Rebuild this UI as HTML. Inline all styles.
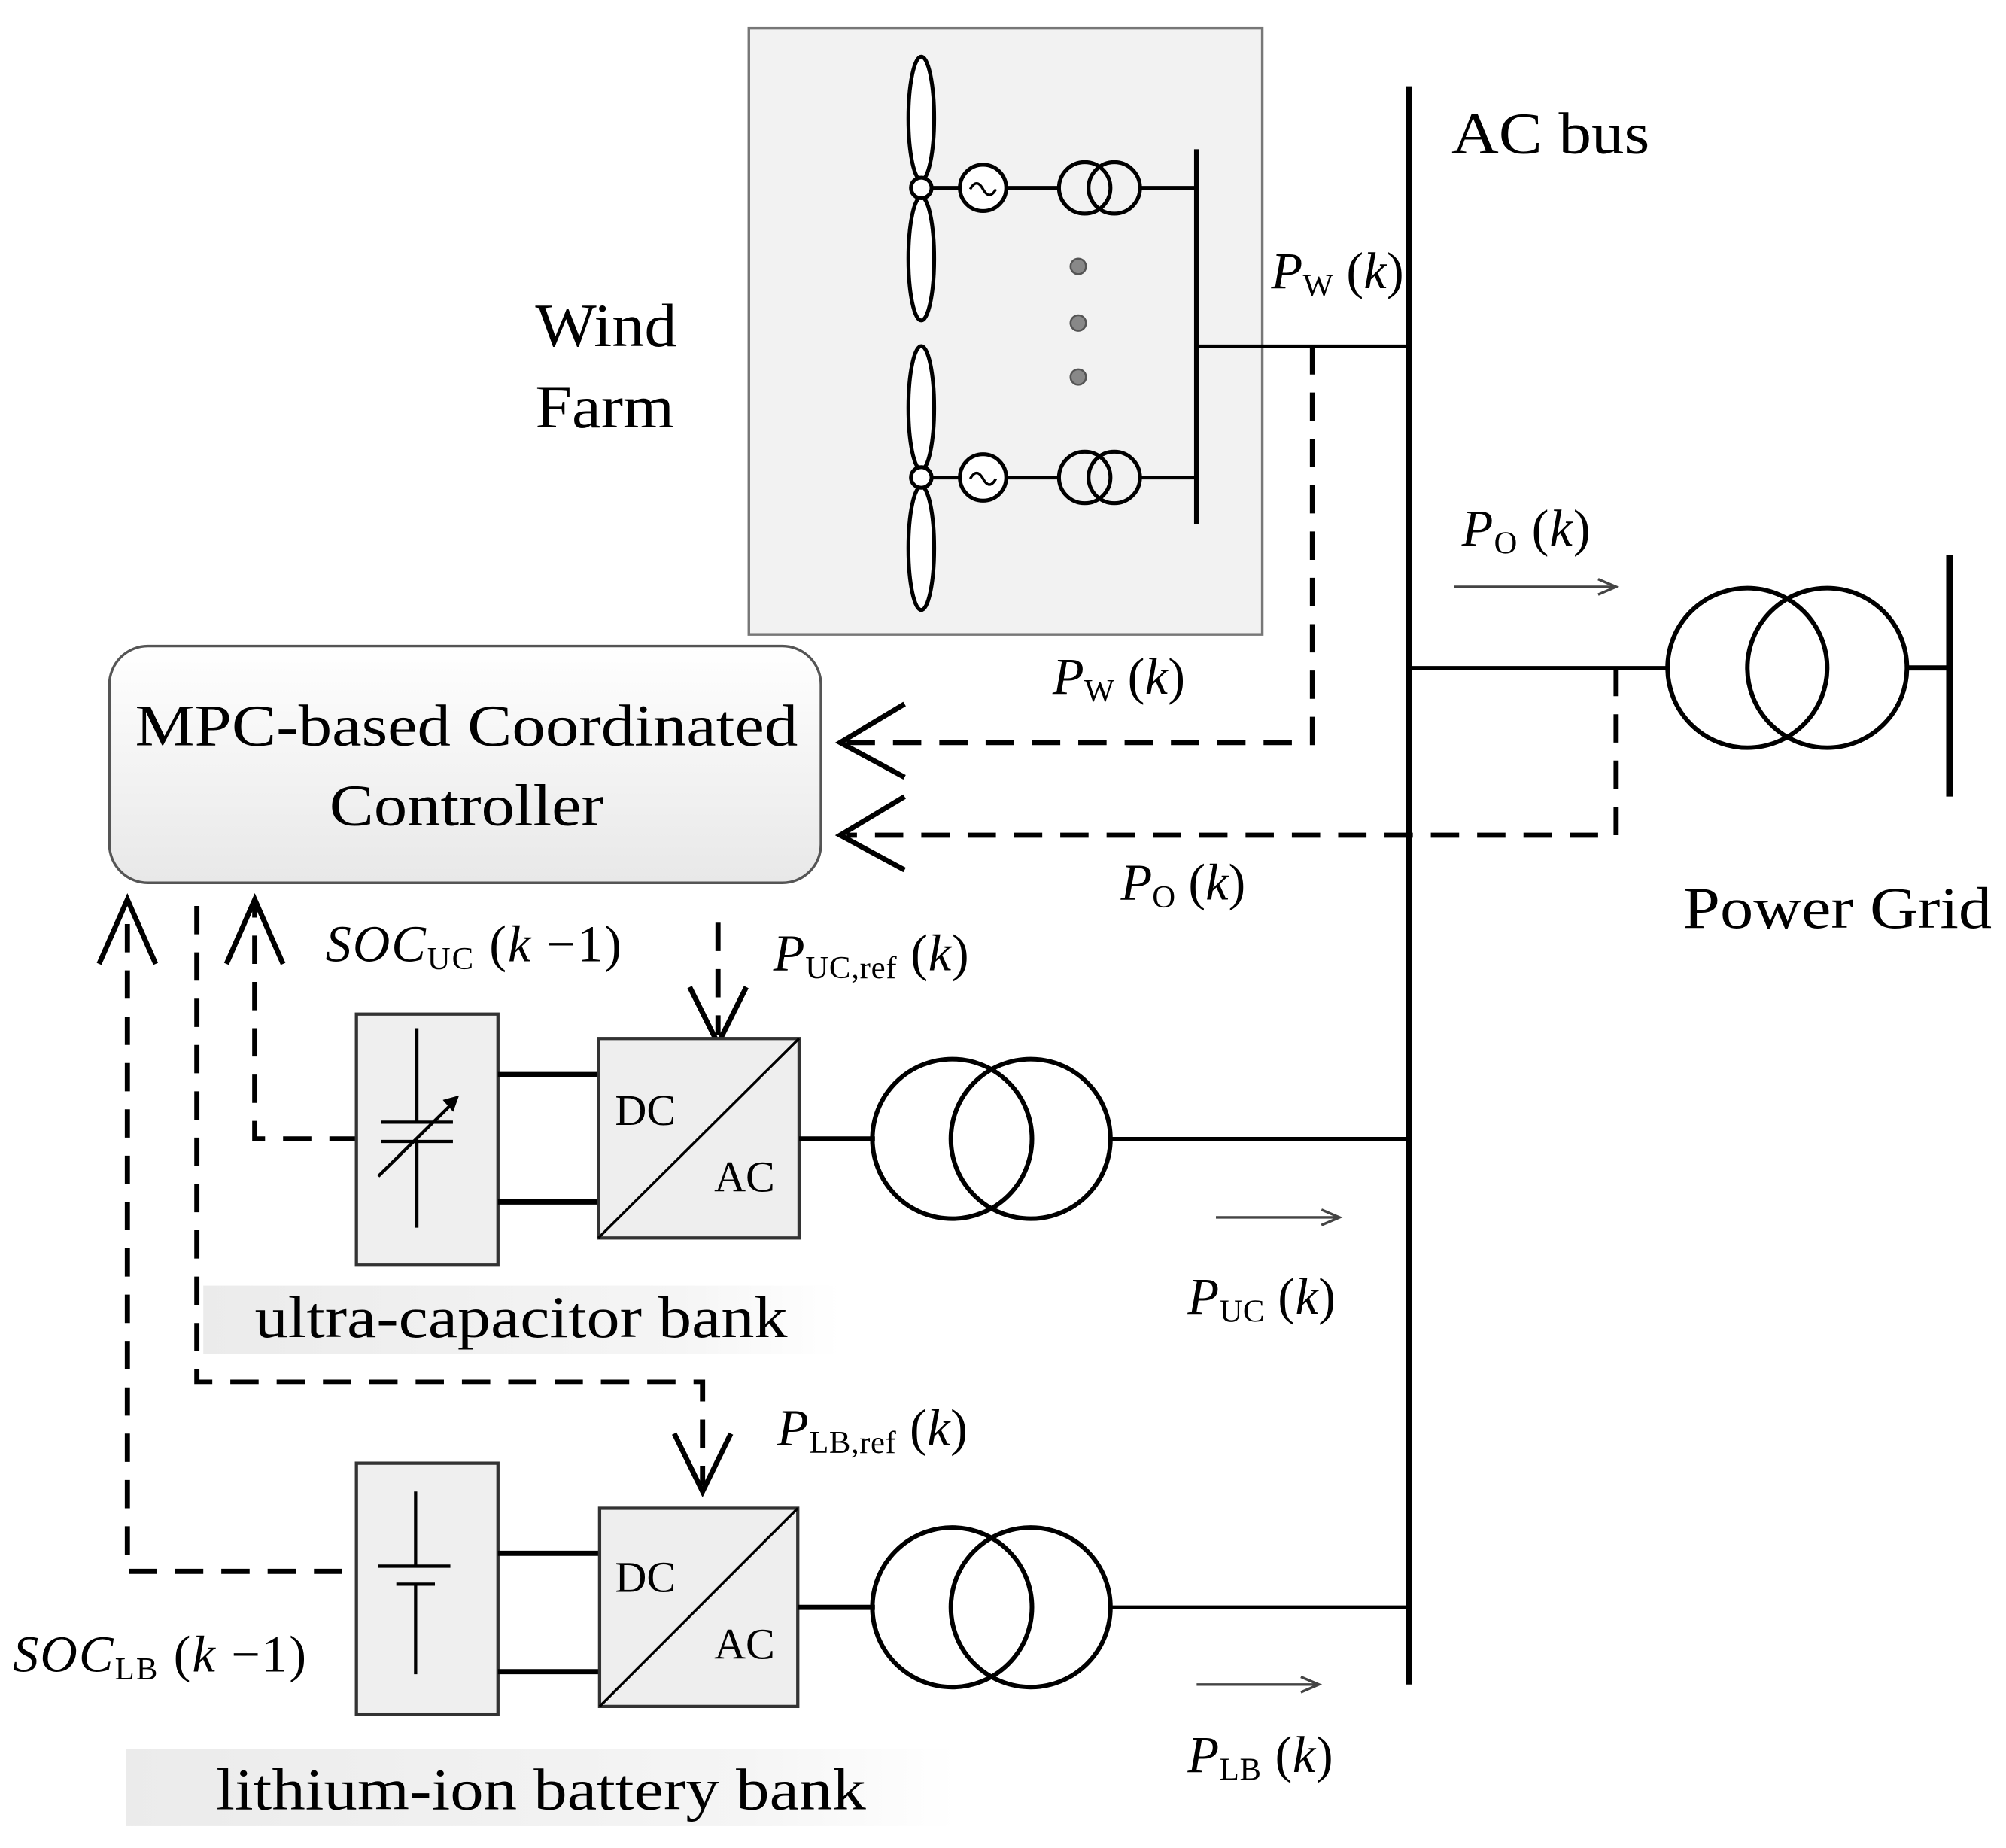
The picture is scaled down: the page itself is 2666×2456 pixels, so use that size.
<!DOCTYPE html>
<html><head><meta charset="utf-8"><style>
html,body{margin:0;padding:0;background:#fff}
svg{display:block}
text{font-family:"Liberation Serif",serif;fill:#000}
</style></head><body>
<svg width="2666" height="2456" viewBox="2 1 1559 1436" preserveAspectRatio="none" xmlns="http://www.w3.org/2000/svg">
<defs>
<linearGradient id="g1" x1="0" y1="0" x2="0" y2="1"><stop offset="0" stop-color="#ffffff"/><stop offset="1" stop-color="#e8e8e8"/></linearGradient>
<linearGradient id="g2" x1="0" y1="0" x2="1" y2="0"><stop offset="0" stop-color="#ebebeb"/><stop offset="0.75" stop-color="#f5f5f5"/><stop offset="1" stop-color="#ffffff"/></linearGradient>
</defs>
<g fill="none" stroke="#000" stroke-width="4">
<rect x="584" y="23" width="399" height="471" fill="#f2f2f2" stroke="#777" stroke-width="2"/>
<g stroke-width="3">
<ellipse cx="718" cy="93" rx="10" ry="48" fill="#fff"/>
<ellipse cx="718" cy="202" rx="10" ry="48" fill="#fff"/>
<circle cx="718" cy="147" r="8" fill="#fff"/>
<line x1="726" y1="147" x2="748" y2="147"/>
<circle cx="766" cy="147" r="18" fill="#fff"/>
<path d="M756 148 q5 -9 10 0 q5 9 10 0" stroke-width="2"/>
<line x1="784" y1="147" x2="825" y2="147"/>
<circle cx="845" cy="147" r="20"/><circle cx="868" cy="147" r="20"/>
<line x1="888" y1="147" x2="932" y2="147"/>
<ellipse cx="718" cy="318" rx="10" ry="48" fill="#fff"/>
<ellipse cx="718" cy="427" rx="10" ry="48" fill="#fff"/>
<circle cx="718" cy="372" r="8" fill="#fff"/>
<line x1="726" y1="372" x2="748" y2="372"/>
<circle cx="766" cy="372" r="18" fill="#fff"/>
<path d="M756 373 q5 -9 10 0 q5 9 10 0" stroke-width="2"/>
<line x1="784" y1="372" x2="825" y2="372"/>
<circle cx="845" cy="372" r="20"/><circle cx="868" cy="372" r="20"/>
<line x1="888" y1="372" x2="932" y2="372"/>
</g>
<line x1="932" y1="117" x2="932" y2="408"/>
<circle cx="840" cy="208" r="6" fill="#888" stroke="#555" stroke-width="1.5"/>
<circle cx="840" cy="252" r="6" fill="#888" stroke="#555" stroke-width="1.5"/>
<circle cx="840" cy="294" r="6" fill="#888" stroke="#555" stroke-width="1.5"/>
<line x1="932" y1="270" x2="1097" y2="270" stroke-width="2.5"/>
<line x1="1097" y1="68" x2="1097" y2="1310" stroke-width="5"/>
<line x1="1097" y1="520" x2="1298" y2="520" stroke-width="3"/>
<circle cx="1360" cy="520" r="62" stroke-width="3.5"/>
<circle cx="1422" cy="520" r="62" stroke-width="3.5"/>
<line x1="1484" y1="520" x2="1517" y2="520"/>
<line x1="1517" y1="432" x2="1517" y2="620" stroke-width="5"/>
<line x1="1132" y1="457" x2="1256" y2="457" stroke="#444" stroke-width="2"/>
<path d="M1244 451 L1258 457 L1244 463" stroke="#444" stroke-width="2"/>
<rect x="87" y="503" width="553" height="184" rx="30" fill="url(#g1)" stroke="#555" stroke-width="2"/>
<g stroke-dasharray="22 14" stroke-width="4">
<polyline points="1022,270 1022,578 660,578"/>
<polyline points="1258,520 1258,650 660,650"/>
<polyline points="280,886 200,886 200,705"/>
<polyline points="268,1222 101,1222 101,705"/>
<polyline points="155,705 155,1075 548,1075 548,1155"/>
<polyline points="560,718 560,805"/>
</g>
<g stroke-width="4">
<polyline points="705,548 655,578 705,605"/>
<polyline points="705,620 655,650 705,677"/>
<polyline points="178,750 200,700 222,750"/>
<polyline points="79,750 101,700 123,750"/>
<polyline points="526,1115 548,1160 570,1115"/>
<polyline points="538,768 560,812 582,768"/>
</g>
<rect x="279" y="789" width="110" height="195" fill="#efefef" stroke="#333" stroke-width="2.5"/>
<g stroke-width="2.5">
<line x1="326" y1="800" x2="326" y2="873"/>
<line x1="298" y1="873" x2="354" y2="873"/>
<line x1="298" y1="888" x2="354" y2="888"/>
<line x1="326" y1="888" x2="326" y2="955"/>
<line x1="296" y1="915" x2="356" y2="856"/>
</g>
<path d="M347 856 L358 853 L354 864 Z" fill="#000" stroke-width="1"/>
<line x1="389" y1="836" x2="467" y2="836"/>
<line x1="389" y1="935" x2="467" y2="935"/>
<rect x="467" y="808" width="156" height="155" fill="#eeeeee" stroke="#333" stroke-width="2.5"/>
<line x1="467" y1="963" x2="623" y2="808" stroke-width="2"/>
<line x1="623" y1="886" x2="682" y2="886"/>
<circle cx="742" cy="886" r="62" stroke-width="3.5"/>
<circle cx="803" cy="886" r="62" stroke-width="3.5"/>
<line x1="865" y1="886" x2="1097" y2="886" stroke-width="3"/>
<line x1="947" y1="947" x2="1041" y2="947" stroke="#444" stroke-width="2"/>
<path d="M1029 941 L1043 947 L1029 953" stroke="#444" stroke-width="2"/>
<rect x="279" y="1138" width="110" height="195" fill="#efefef" stroke="#333" stroke-width="2.5"/>
<g stroke-width="2.5">
<line x1="325" y1="1160" x2="325" y2="1218"/>
<line x1="296" y1="1218" x2="352" y2="1218"/>
<line x1="310" y1="1232" x2="340" y2="1232"/>
<line x1="325" y1="1232" x2="325" y2="1302"/>
</g>
<line x1="389" y1="1208" x2="468" y2="1208"/>
<line x1="389" y1="1300" x2="468" y2="1300"/>
<rect x="468" y="1173" width="154" height="154" fill="#eeeeee" stroke="#333" stroke-width="2.5"/>
<line x1="468" y1="1327" x2="622" y2="1173" stroke-width="2"/>
<line x1="622" y1="1250" x2="682" y2="1250"/>
<circle cx="742" cy="1250" r="62" stroke-width="3.5"/>
<circle cx="803" cy="1250" r="62" stroke-width="3.5"/>
<line x1="865" y1="1250" x2="1097" y2="1250" stroke-width="3"/>
<line x1="932" y1="1310" x2="1025" y2="1310" stroke="#444" stroke-width="2"/>
<path d="M1013 1304 L1027 1310 L1013 1316" stroke="#444" stroke-width="2"/>
</g>
<rect x="160" y="1000" width="495" height="53" fill="url(#g2)"/>
<rect x="100" y="1360" width="645" height="60" fill="url(#g2)"/>
<text x="418" y="270" font-size="48" textLength="110" lengthAdjust="spacingAndGlyphs">Wind</text>
<text x="418" y="333" font-size="48" textLength="108" lengthAdjust="spacingAndGlyphs">Farm</text>
<text x="1130" y="120" font-size="46" textLength="154" lengthAdjust="spacingAndGlyphs">AC bus</text>
<text x="1310" y="722" font-size="46" textLength="240" lengthAdjust="spacingAndGlyphs">Power Grid</text>
<text x="107" y="580" font-size="46" textLength="515" lengthAdjust="spacingAndGlyphs">MPC-based Coordinated</text>
<text x="258" y="642" font-size="46" textLength="213" lengthAdjust="spacingAndGlyphs">Controller</text>
<text x="200" y="1040" font-size="46" textLength="414" lengthAdjust="spacingAndGlyphs">ultra-capacitor bank</text>
<text x="170" y="1407" font-size="46" textLength="505" lengthAdjust="spacingAndGlyphs">lithium-ion battery bank</text>
<text x="480" y="875" font-size="34">DC</text>
<text x="557" y="927" font-size="34">AC</text>
<text x="480" y="1238" font-size="34">DC</text>
<text x="557" y="1290" font-size="34">AC</text>
<g font-size="40">
<text x="990" y="225" textLength="103" lengthAdjust="spacing"><tspan font-style="italic">P</tspan><tspan font-size="25" dy="6">W</tspan><tspan dy="-6"> (</tspan><tspan font-style="italic">k</tspan>)</text>
<text x="1138" y="425" textLength="100" lengthAdjust="spacing"><tspan font-style="italic">P</tspan><tspan font-size="25" dy="6">O</tspan><tspan dy="-6"> (</tspan><tspan font-style="italic">k</tspan>)</text>
<text x="820" y="540" textLength="103" lengthAdjust="spacing"><tspan font-style="italic">P</tspan><tspan font-size="25" dy="6">W</tspan><tspan dy="-6"> (</tspan><tspan font-style="italic">k</tspan>)</text>
<text x="873" y="700" textLength="97" lengthAdjust="spacing"><tspan font-style="italic">P</tspan><tspan font-size="25" dy="6">O</tspan><tspan dy="-6"> (</tspan><tspan font-style="italic">k</tspan>)</text>
<text x="925" y="1022" textLength="115" lengthAdjust="spacing"><tspan font-style="italic">P</tspan><tspan font-size="25" dy="6">UC</tspan><tspan dy="-6"> (</tspan><tspan font-style="italic">k</tspan>)</text>
<text x="925" y="1378" textLength="113" lengthAdjust="spacing"><tspan font-style="italic">P</tspan><tspan font-size="25" dy="6">LB</tspan><tspan dy="-6"> (</tspan><tspan font-style="italic">k</tspan>)</text>
<text x="255" y="748" textLength="230" lengthAdjust="spacing"><tspan font-style="italic">SOC</tspan><tspan font-size="25" dy="6">UC</tspan><tspan dy="-6"> (</tspan><tspan font-style="italic">k</tspan> −1)</text>
<text x="12" y="1300" textLength="228" lengthAdjust="spacing"><tspan font-style="italic">SOC</tspan><tspan font-size="25" dy="6">LB</tspan><tspan dy="-6"> (</tspan><tspan font-style="italic">k</tspan> −1)</text>
<text x="603" y="755" textLength="152" lengthAdjust="spacing"><tspan font-style="italic">P</tspan><tspan font-size="25" dy="6">UC,ref</tspan><tspan dy="-6"> (</tspan><tspan font-style="italic">k</tspan>)</text>
<text x="606" y="1124" textLength="148" lengthAdjust="spacing"><tspan font-style="italic">P</tspan><tspan font-size="25" dy="6">LB,ref</tspan><tspan dy="-6"> (</tspan><tspan font-style="italic">k</tspan>)</text>
</g>
</svg>
</body></html>
